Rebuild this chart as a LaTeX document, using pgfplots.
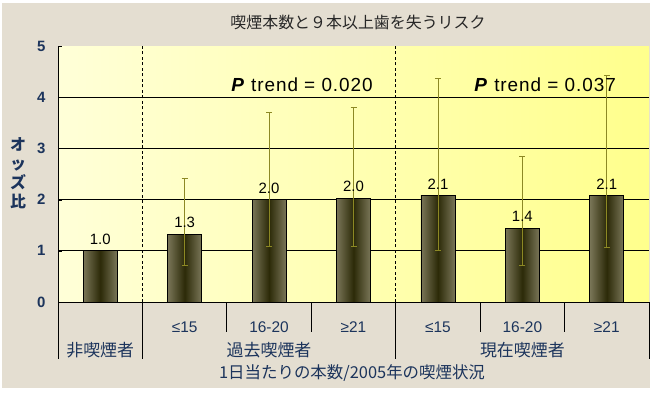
\documentclass[border=0pt]{standalone}
\usepackage{pgfplots}
\pgfplotsset{compat=1.18}
\usepackage{fontspec}
\setmainfont{Liberation Sans}
\newfontfamily\jp{Noto Sans CJK JP}
\definecolor{bgbeige}{RGB}{228,222,209}
\definecolor{navy}{RGB}{28,52,92}
\definecolor{barEdge}{RGB}{122,118,88}
\definecolor{barMid}{RGB}{44,42,8}
\definecolor{errc}{RGB}{140,136,36}
\definecolor{plotL}{RGB}{255,255,216}
\definecolor{plotR}{RGB}{255,255,140}

\begin{document}
\begin{tikzpicture}[x=1bp,y=1bp]
\useasboundingbox (0,0) rectangle (659,394);
\fill[white] (0,0) rectangle (659,394);
\fill[bgbeige] (2,6) rectangle (650,391);
\shade[left color=plotL, right color=plotR] (58,92) rectangle (649,348);
\node[font=\jp\fontsize{16}{18}\selectfont, text=black!85] at (358,372) {喫煙本数と９本以上歯を失うリスク};
\node[font=\jp\bfseries\fontsize{16}{19}\selectfont, text=navy, align=center, inner sep=0pt] at (18,221) {オ\\ッ\\ズ\\比};
\begin{axis}[
  at={(58bp,92bp)}, anchor=south west,
  scale only axis, width=591bp, height=256bp,
  xmin=-0.5, xmax=6.5, ymin=0, ymax=5,
  axis lines*=left,
  axis line style={black, line width=0.8bp},
  xtick={0,1,2,3,4,5,6},
  xticklabels={,≤15,16-20,≥21,≤15,16-20,≥21},
  major x tick style={draw=none},
  xticklabel style={anchor=base, yshift=-26bp, font=\fontsize{15.5}{17}\selectfont, text=navy},
  ytick={0,1,2,3,4,5},
  major y tick style={black},
  major tick length=4bp,
  tick align=inside,
  yticklabel style={font=\bfseries\fontsize{15}{17}\selectfont, text=navy, xshift=-9bp},
  /pgf/number format/assume math mode=true,
  clip=false,
  ybar, bar width=34bp, bar shift=0pt,
  nodes near coords,
  point meta=explicit symbolic,
  nodes near coords style={anchor=base, yshift=6.5bp, font=\fontsize{15}{17}\selectfont, text=black},
  every axis plot/.append style={draw=black, line width=0.8bp, left color=barEdge, right color=barEdge, middle color=barMid},
  error bars/error bar style={errc, line width=0.8bp},
  error bars/error mark options={errc, rotate=90, mark size=3bp, line width=0.8bp},
]
\pgfplotsinvokeforeach{1,2,3,4}{\draw[black, line width=0.8bp] (axis cs:-0.5,#1) -- (axis cs:6.5,#1);}
\draw[black, dash pattern=on 3bp off 2.5bp, line width=0.8bp] (axis cs:0.5,0) -- (axis cs:0.5,5);
\draw[black, dash pattern=on 3bp off 2.5bp, line width=0.8bp] (axis cs:3.5,0) -- (axis cs:3.5,5);
% non-smokers (reference)
\addplot[draw=black] coordinates {(0,1.00) [1.0]};
% past smokers
\addplot[draw=black, error bars/.cd, y dir=both, y explicit] coordinates {(1,1.32) +=(0,1.10) -=(0,0.61) [1.3]};
\addplot[draw=black, error bars/.cd, y dir=both, y explicit] coordinates {(2,2.00) +=(0,1.70) -=(0,0.92) [2.0]};
\addplot[draw=black, error bars/.cd, y dir=both, y explicit] coordinates {(3,2.03) +=(0,1.77) -=(0,0.94) [2.0]};
% current smokers
\addplot[draw=black, error bars/.cd, y dir=both, y explicit] coordinates {(4,2.08) +=(0,2.29) -=(0,1.08) [2.1]};
\addplot[draw=black, error bars/.cd, y dir=both, y explicit] coordinates {(5,1.44) +=(0,1.41) -=(0,0.72) [1.4]};
\addplot[draw=black, error bars/.cd, y dir=both, y explicit] coordinates {(6,2.08) +=(0,2.35) -=(0,1.01) [2.1]};
\pgfplotsinvokeforeach{1.5,2.5,4.5,5.5}{\draw[black, line width=0.8bp] (axis cs:#1,0) -- ([yshift=-30bp]axis cs:#1,0);}
\pgfplotsinvokeforeach{-0.5,0.5,3.5,6.5}{\draw[black, line width=0.8bp] (axis cs:#1,0) -- ([yshift=-57bp]axis cs:#1,0);}
\node[anchor=base, font=\fontsize{19}{21}\selectfont\addfontfeatures{LetterSpace=5}] at (axis cs:2.39,4.12) {\textbf{\textit{P}} trend = 0.020};
\node[anchor=base, font=\fontsize{19}{21}\selectfont\addfontfeatures{LetterSpace=5}] at (axis cs:5.27,4.12) {\textbf{\textit{P}} trend = 0.037};
\node[anchor=base, font=\jp\fontsize{17}{19}\selectfont, text=navy] at ([yshift=-54bp]axis cs:0,0) {非喫煙者};
\node[anchor=base, font=\jp\fontsize{17}{19}\selectfont, text=navy] at ([yshift=-54bp]axis cs:2,0) {過去喫煙者};
\node[anchor=base, font=\jp\fontsize{17}{19}\selectfont, text=navy] at ([yshift=-54bp]axis cs:5,0) {現在喫煙者};
\end{axis}
\node[anchor=base, font=\jp\fontsize{16.5}{18}\selectfont, text=navy] at (352,16) {1日当たりの本数/2005年の喫煙状況};
\end{tikzpicture}
\end{document}
